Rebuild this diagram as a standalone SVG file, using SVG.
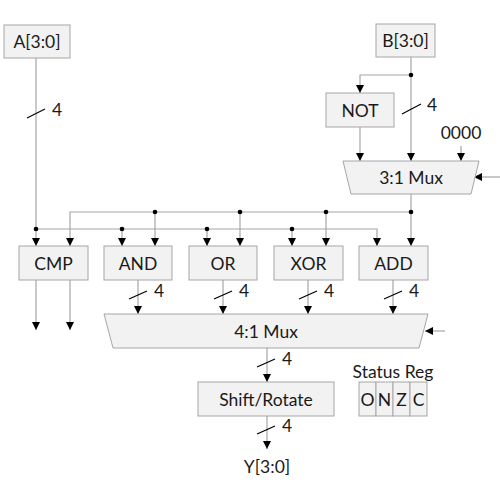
<svg xmlns="http://www.w3.org/2000/svg" width="500" height="500" viewBox="0 0 500 500">
<style>
.box{fill:#f2f2f2;stroke:#a6a6a6;stroke-width:1}
.w{fill:none;stroke:#a6a6a6;stroke-width:1.2}
.a{marker-end:url(#arr)}
.s{stroke:#000;stroke-width:1.2}
.t{font-family:Lato,"Open Sans",sans-serif;font-size:17.5px;fill:#1a1a1a;text-anchor:middle;dominant-baseline:central}
.n{font-family:Lato,"Open Sans",sans-serif;font-size:17.5px;fill:#1a1a1a}
.d{fill:#000}
</style>
<defs>
<marker id="arr" markerUnits="userSpaceOnUse" markerWidth="9" markerHeight="9" refX="8" refY="4" orient="auto">
<path d="M0,0 L8,4 L0,8 z" fill="#000"/>
</marker>
</defs>
<g id="connectors">
<path class="w a" d="M36,58 V246"/>
<path class="w a" d="M36,229 H377 V246"/>
<path class="w a" d="M122,229 V246"/>
<path class="w a" d="M207,229 V246"/>
<path class="w a" d="M292,229 V246"/>
<path class="w a" d="M411,57 V161"/>
<path class="w a" d="M411,75 H360 V93"/>
<path class="w a" d="M360,127 V161"/>
<path class="w a" d="M461,146 V161"/>
<path class="w a" d="M500,177 H474"/>
<path class="w a" d="M411,194 V246"/>
<path class="w a" d="M411,212 H70 V246"/>
<path class="w a" d="M155,212 V246"/>
<path class="w a" d="M240,212 V246"/>
<path class="w a" d="M326,212 V246"/>
<path class="w a" d="M36,280 V330"/>
<path class="w a" d="M70,280 V330"/>
<path class="w a" d="M138,280 V314"/>
<path class="w a" d="M223,280 V314"/>
<path class="w a" d="M308,280 V314"/>
<path class="w a" d="M393,280 V314"/>
<path class="w a" d="M445,331 H425"/>
<path class="w a" d="M267,348 V382"/>
<path class="w a" d="M267,416 V449"/>
<circle class="d" cx="36" cy="229" r="2.3"/>
<circle class="d" cx="122" cy="229" r="2.3"/>
<circle class="d" cx="207" cy="229" r="2.3"/>
<circle class="d" cx="292" cy="229" r="2.3"/>
<circle class="d" cx="155" cy="212" r="2.3"/>
<circle class="d" cx="240" cy="212" r="2.3"/>
<circle class="d" cx="326" cy="212" r="2.3"/>
<circle class="d" cx="411" cy="212" r="2.3"/>
<circle class="d" cx="411" cy="75" r="2.3"/>
<line class="s" x1="27" y1="118" x2="45" y2="109"/>
<text class="n" x="52" y="116">4</text>
<line class="s" x1="402" y1="114" x2="421" y2="104"/>
<text class="n" x="427" y="111">4</text>
<line class="s" x1="129" y1="299" x2="147" y2="291"/>
<text class="n" x="154" y="297">4</text>
<line class="s" x1="214" y1="299" x2="232" y2="291"/>
<text class="n" x="239" y="297">4</text>
<line class="s" x1="299" y1="299" x2="317" y2="291"/>
<text class="n" x="324" y="297">4</text>
<line class="s" x1="384" y1="299" x2="402" y2="291"/>
<text class="n" x="409" y="297">4</text>
<line class="s" x1="257" y1="367" x2="275" y2="359"/>
<text class="n" x="282" y="365">4</text>
<line class="s" x1="257" y1="434" x2="275" y2="426"/>
<text class="n" x="282" y="432">4</text>
</g>
<g id="A"><rect class="box" x="4" y="25" width="66" height="33"/><text class="t" x="37" y="41.5">A[3:0]</text></g>
<g id="B"><rect class="box" x="376" y="24" width="59" height="33"/><text class="t" x="405.5" y="40.5">B[3:0]</text></g>
<g id="NOT"><rect class="box" x="326" y="93" width="68" height="34"/><text class="t" x="360" y="110">NOT</text></g>
<g id="zero"><text class="t" x="461" y="132">0000</text></g>
<g id="mux3"><path class="box" d="M343,161 H479 L471,194 H351 Z"/><text class="t" x="411" y="177.5">3:1 Mux</text></g>
<g id="CMP"><rect class="box" x="19" y="246" width="69" height="34"/><text class="t" x="53.5" y="263">CMP</text></g>
<g id="AND"><rect class="box" x="104" y="246" width="68" height="34"/><text class="t" x="138" y="263">AND</text></g>
<g id="OR"><rect class="box" x="189" y="246" width="68" height="34"/><text class="t" x="223" y="263">OR</text></g>
<g id="XOR"><rect class="box" x="274" y="246" width="69" height="34"/><text class="t" x="308.5" y="263">XOR</text></g>
<g id="ADD"><rect class="box" x="359" y="246" width="69" height="34"/><text class="t" x="393.5" y="263">ADD</text></g>
<g id="mux4"><path class="box" d="M104,314 H428 L419,348 H113 Z"/><text class="t" x="266" y="331">4:1 Mux</text></g>
<g id="shift"><rect class="box" x="198" y="382" width="136" height="34"/><text class="t" x="266" y="399">Shift/Rotate</text></g>
<g id="Y"><text class="t" x="267" y="466">Y[3:0]</text></g>
<g id="status">
<text class="t" x="393" y="371">Status Reg</text>
<rect class="box" x="359" y="382" width="17" height="34"/>
<rect class="box" x="376" y="382" width="17" height="34"/>
<rect class="box" x="393" y="382" width="17" height="34"/>
<rect class="box" x="410" y="382" width="17" height="34"/>
<text class="t" x="367.5" y="399">O</text>
<text class="t" x="384.5" y="399">N</text>
<text class="t" x="401.5" y="399">Z</text>
<text class="t" x="418.5" y="399">C</text>
</g>
</svg>
